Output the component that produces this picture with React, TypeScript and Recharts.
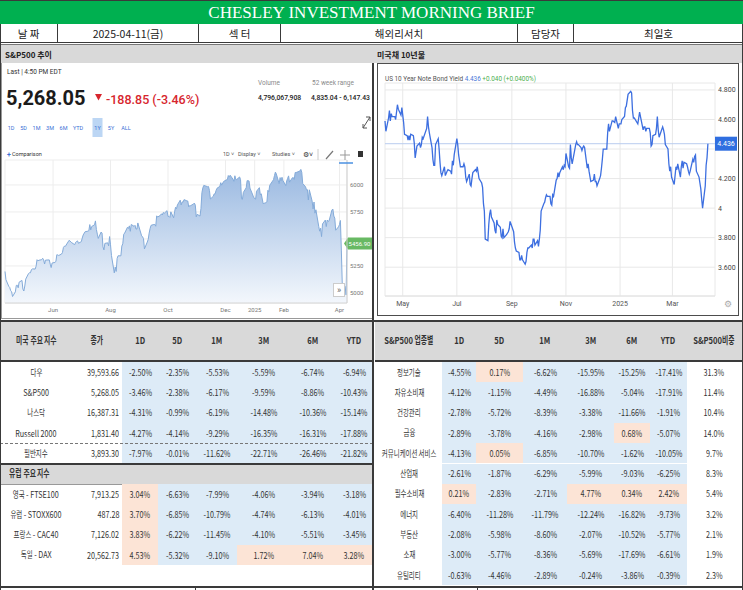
import React from "react";
import { AreaChart, Area, LineChart, Line, XAxis, YAxis, CartesianGrid, ReferenceLine } from "recharts";

// trading days shared by both series, 2024-04-11 .. 2025-04-10
const calendar: [string, number[]][] = [
  ["2024-04", [11, 12, 15, 16, 17, 18, 19, 22, 23, 24, 25, 26, 29, 30]],
  ["2024-05", [1, 2, 3, 6, 7, 8, 9, 10, 13, 14, 15, 16, 17, 20, 21, 22, 23, 24, 28, 29, 30, 31]],
  ["2024-06", [3, 4, 5, 6, 7, 10, 11, 12, 13, 14, 17, 18, 20, 21, 24, 25, 26, 27, 28]],
  ["2024-07", [1, 2, 3, 5, 8, 9, 10, 11, 12, 15, 16, 17, 18, 19, 22, 23, 24, 25, 26, 29, 30, 31]],
  ["2024-08", [1, 2, 5, 6, 7, 8, 9, 12, 13, 14, 15, 16, 19, 20, 21, 22, 23, 26, 27, 28, 29, 30]],
  ["2024-09", [3, 4, 5, 6, 9, 10, 11, 12, 13, 16, 17, 18, 19, 20, 23, 24, 25, 26, 27, 30]],
  ["2024-10", [1, 2, 3, 4, 7, 8, 9, 10, 11, 14, 15, 16, 17, 18, 21, 22, 23, 24, 25, 28, 29, 30, 31]],
  ["2024-11", [1, 4, 5, 6, 7, 8, 12, 13, 14, 15, 18, 19, 20, 21, 22, 25, 26, 27, 29]],
  ["2024-12", [2, 3, 4, 5, 6, 9, 10, 11, 12, 13, 16, 17, 18, 19, 20, 23, 24, 26, 27, 30, 31]],
  ["2025-01", [2, 3, 6, 7, 8, 10, 13, 14, 15, 16, 17, 21, 22, 23, 24, 27, 28, 29, 30, 31]],
  ["2025-02", [3, 4, 5, 6, 7, 10, 11, 12, 13, 14, 18, 19, 20, 21, 24, 25, 26, 27, 28]],
  ["2025-03", [3, 4, 5, 6, 7, 10, 11, 12, 13, 14, 17, 18, 19, 20, 21, 24, 25, 26, 27, 28, 31]],
  ["2025-04", [1, 2, 3, 4, 7, 8, 9, 10]],
];

// S&P 500 closes (through 04-09)
const spxClose = [
  5199, 5123, 5061, 5051, 5022, 5011, 4967, 5010, 5070, 5072, 5048, 5100, 5116, 5036,
  5018, 5064, 5128, 5180, 5187, 5187, 5214, 5223, 5221, 5247, 5308, 5297, 5303, 5308, 5321, 5307, 5268, 5304, 5306, 5267, 5235, 5277,
  5283, 5291, 5354, 5352, 5347, 5360, 5375, 5421, 5433, 5431, 5473, 5487, 5473, 5464, 5447, 5469, 5477, 5482, 5460,
  5475, 5509, 5537, 5567, 5572, 5577, 5633, 5584, 5615, 5631, 5667, 5588, 5544, 5505, 5564, 5555, 5427, 5399, 5459, 5464, 5436, 5522,
  5446, 5347, 5186, 5240, 5199, 5319, 5344, 5344, 5434, 5455, 5543, 5554, 5608, 5597, 5621, 5571, 5634, 5617, 5626, 5592, 5592, 5648,
  5529, 5520, 5503, 5408, 5471, 5496, 5554, 5596, 5626, 5634, 5634, 5618, 5714, 5703, 5719, 5733, 5722, 5745, 5738, 5762,
  5709, 5709, 5700, 5751, 5696, 5751, 5793, 5780, 5815, 5859, 5815, 5843, 5841, 5864, 5853, 5851, 5797, 5809, 5808, 5823, 5832, 5813, 5705,
  5728, 5712, 5782, 5929, 5973, 5996, 5984, 5985, 5949, 5870, 5894, 5917, 5917, 5949, 5969, 5987, 6021, 5998, 6032,
  6047, 6050, 6087, 6075, 6090, 6053, 6034, 6085, 6051, 6051, 6074, 6050, 5872, 5867, 5931, 5974, 6040, 6037, 5971, 5907, 5882,
  5869, 5942, 5975, 5909, 5918, 5827, 5836, 5843, 5950, 5937, 5997, 6049, 6086, 6119, 6101, 6012, 6068, 6039, 6071, 6041,
  5994, 6037, 6061, 6084, 6026, 6066, 6068, 6052, 6115, 6115, 6129, 6144, 6117, 6013, 5983, 5955, 5956, 5861, 5955,
  5850, 5778, 5842, 5739, 5770, 5615, 5572, 5599, 5522, 5639, 5675, 5615, 5675, 5663, 5668, 5768, 5777, 5712, 5693, 5581, 5612,
  5633, 5671, 5397, 5074, 5062, 4982, 5456.9,
];

// US 10Y note yield, %
const ust10y = [
  4.59, 4.52, 4.61, 4.66, 4.59, 4.64, 4.62, 4.62, 4.6, 4.65, 4.7, 4.67, 4.63, 4.68,
  4.63, 4.58, 4.5, 4.49, 4.46, 4.49, 4.46, 4.5, 4.49, 4.44, 4.34, 4.38, 4.42, 4.44, 4.41, 4.43, 4.48, 4.47, 4.54, 4.62, 4.55, 4.51,
  4.41, 4.33, 4.29, 4.29, 4.43, 4.47, 4.4, 4.31, 4.24, 4.22, 4.28, 4.22, 4.25, 4.26, 4.25, 4.23, 4.32, 4.29, 4.36,
  4.47, 4.43, 4.36, 4.28, 4.28, 4.3, 4.28, 4.21, 4.18, 4.23, 4.16, 4.15, 4.2, 4.24, 4.26, 4.25, 4.28, 4.24, 4.2, 4.17, 4.14, 4.03,
  3.98, 3.79, 3.78, 3.89, 3.96, 3.99, 3.94, 3.9, 3.85, 3.83, 3.92, 3.89, 3.87, 3.81, 3.8, 3.86, 3.8, 3.82, 3.83, 3.84, 3.86, 3.91,
  3.84, 3.77, 3.73, 3.71, 3.7, 3.65, 3.65, 3.68, 3.65, 3.62, 3.64, 3.7, 3.73, 3.73, 3.75, 3.73, 3.79, 3.79, 3.75, 3.78,
  3.74, 3.79, 3.85, 3.98, 4.03, 4.04, 4.07, 4.09, 4.08, 4.08, 4.03, 4.02, 4.09, 4.08, 4.19, 4.2, 4.24, 4.21, 4.24, 4.28, 4.26, 4.29, 4.28,
  4.37, 4.28, 4.27, 4.43, 4.34, 4.3, 4.43, 4.45, 4.43, 4.43, 4.41, 4.39, 4.41, 4.42, 4.41, 4.27, 4.3, 4.25, 4.18,
  4.19, 4.23, 4.18, 4.18, 4.15, 4.2, 4.22, 4.27, 4.33, 4.4, 4.4, 4.4, 4.51, 4.57, 4.52, 4.59, 4.59, 4.58, 4.62, 4.54, 4.57,
  4.57, 4.6, 4.62, 4.68, 4.69, 4.77, 4.79, 4.78, 4.66, 4.61, 4.61, 4.57, 4.61, 4.65, 4.62, 4.53, 4.55, 4.55, 4.52, 4.54,
  4.54, 4.51, 4.42, 4.43, 4.49, 4.5, 4.54, 4.62, 4.53, 4.48, 4.55, 4.53, 4.5, 4.43, 4.4, 4.3, 4.25, 4.28, 4.21,
  4.16, 4.22, 4.28, 4.26, 4.3, 4.21, 4.28, 4.32, 4.27, 4.31, 4.3, 4.28, 4.25, 4.23, 4.25, 4.33, 4.31, 4.35, 4.36, 4.25, 4.21,
  4.17, 4.13, 4.06, 4.0, 4.15, 4.29, 4.34, 4.436,
];

const spxTickDates = ["2024-06-01", "2024-08-01", "2024-10-01", "2024-12-01", "2025-01-01", "2025-02-01", "2025-04-01"];
const spxYTicks = [5000, 5250, 5500, 5750, 6000];
const ustTickDates = ["2024-05-01", "2024-07-01", "2024-09-01", "2024-11-01", "2025-01-01", "2025-03-01"];
const ustYTicks = [3.6, 3.8, 4, 4.2, 4.4, 4.6, 4.8];

// header strip
const infoLabels = ["날 짜", "2025-04-11(금)", "섹 터", "해외리서치", "담당자", "최일호"];

// US / Europe index table
const periods = ["1D", "5D", "1M", "3M", "6M", "YTD"];
const usNames = ["다우", "S&P500", "나스닥", "Russell 2000", "필반지수"];
const usClose = ["39,593.66", "5,268.05", "16,387.31", "1,831.40", "3,893.30"];
const us1D = [-2.5, -3.46, -4.31, -4.27, -7.97];
const us5D = [-2.35, -2.38, -0.99, -4.14, -0.01];
const us1M = [-5.53, -6.17, -6.19, -9.29, -11.62];
const us3M = [-5.59, -9.59, -14.48, -16.35, -22.71];
const us6M = [-6.74, -8.86, -10.36, -16.31, -26.46];
const usYTD = [-6.94, -10.43, -15.14, -17.88, -21.82];

const euNames = ["영국 - FTSE100", "유럽 - STOXX600", "프랑스 - CAC40", "독일 - DAX"];
const euClose = ["7,913.25", "487.28", "7,126.02", "20,562.73"];
const eu1D = [3.04, 3.7, 3.83, 4.53];
const eu5D = [-6.63, -6.85, -6.22, -5.32];
const eu1M = [-7.99, -10.79, -11.45, -9.1];
const eu3M = [-4.06, -4.74, -4.1, 1.72];
const eu6M = [-3.94, -6.13, -5.51, 7.04];
const euYTD = [-3.18, -4.01, -3.45, 3.28];

// S&P 500 sector table
const secNames = ["정보기술", "자유소비재", "건강관리", "금융", "커뮤니케이션 서비스", "산업재", "필수소비재", "에너지", "부동산", "소재", "유틸리티"];
const sec1D = [-4.55, -4.12, -2.78, -2.89, -4.13, -2.61, 0.21, -6.4, -2.08, -3.0, -0.63];
const sec5D = [0.17, -1.15, -5.72, -3.78, 0.05, -1.87, -2.83, -11.28, -5.98, -5.77, -4.46];
const sec1M = [-6.62, -4.49, -8.39, -4.16, -6.85, -6.29, -2.71, -11.79, -8.6, -8.36, -2.89];
const sec3M = [-15.95, -16.88, -3.38, -2.98, -10.7, -5.99, 4.77, -12.24, -2.07, -5.69, -0.24];
const sec6M = [-15.25, -5.04, -11.66, 0.68, -1.62, -9.03, 0.34, -16.82, -10.52, -17.69, -3.86];
const secYTD = [-17.41, -17.91, -1.91, -5.07, -10.05, -6.25, 2.42, -9.73, -5.77, -6.61, -0.39];
const secWeight = [31.3, 11.4, 10.4, 14.0, 9.7, 8.3, 5.4, 3.2, 2.1, 1.9, 2.3];

const UI = "Roboto, 'Liberation Sans', Arial, sans-serif";
const KR = "'Noto Sans CJK KR', 'Noto Sans', sans-serif";
const BLUE = "#ddebf7";
const SALMON = "#fce4d6";
const GRAY = "#d9d9d9";
const DARK = "#3a3a3a";

const days = calendar.flatMap(([ym, ds]) => ds.map((d) => Date.parse(`${ym}-${String(d).padStart(2, "0")}`)));
const spxData = spxClose.map((close, i) => ({ t: days[i], close }));
const ustData = ust10y.map((y, i) => ({ t: days[i], y }));
const spxLast = spxClose[spxClose.length - 1];
const ustLast = ust10y[ust10y.length - 1];

const MONTHS = ["Jan", "Feb", "Mar", "Apr", "May", "Jun", "Jul", "Aug", "Sep", "Oct", "Nov", "Dec"];
const monthTick = (t: number) => {
  const d = new Date(t);
  return d.getUTCMonth() === 0 ? String(d.getUTCFullYear()) : MONTHS[d.getUTCMonth()];
};
const yieldTick = (v: number) => (Math.abs(v - 4.4) < 1e-6 ? "" : v === 4 ? "4" : v.toFixed(3));
const pct = (v: number) => `${v.toFixed(2)}%`;
const tone = (v: number) => (v > 0 ? SALMON : BLUE);

// table text: condensed; hangul runs squeezed a bit harder than latin/digits.
// hangul glyphs are one em wide, so the squeezed run's width is known and
// a negative margin closes the gap left by the transform.
const HANGUL = /([\uac00-\ud7a3]+)/;
function Txt({ s, size = 9, bold = false, sx = 0.8, origin = "center" }: { s: string; size?: number; bold?: boolean; sx?: number; origin?: string }) {
  const k = 0.88;
  const hs = size * 1.02;
  return (
    <span style={{ display: "inline-block", whiteSpace: "nowrap", transform: `scaleX(${sx})`, transformOrigin: origin, fontSize: size, fontWeight: bold ? 700 : 400, lineHeight: 1 }}>
      {s.split(HANGUL).map((p, i) =>
        /[\uac00-\ud7a3]/.test(p) ? (
          <span key={i} style={{ display: "inline-block", fontSize: hs, lineHeight: 1, verticalAlign: "baseline", transform: `scaleX(${k})`, transformOrigin: "left center", marginRight: -p.length * hs * (1 - k) }}>{p}</span>
        ) : (
          p
        )
      )}
    </span>
  );
}

function Cell({ x0, x1, y, h, bg, align = "center", children }: any) {
  return (
    <div
      style={{
        position: "absolute", left: x0, top: y, width: x1 - x0, height: h, background: bg,
        display: "flex", alignItems: "center", boxSizing: "border-box", color: "#333",
        justifyContent: align === "right" ? "flex-end" : align === "left" ? "flex-start" : "center",
        paddingRight: align === "right" ? 3 : 0, paddingLeft: align === "left" ? 9 : 0,
      }}
    >
      {children}
    </div>
  );
}

function HLine({ x, y, w, h = 1, color = DARK, dashed = false }: any) {
  return <div style={{ position: "absolute", left: x, top: y, width: w, height: dashed ? 0 : h, background: dashed ? "none" : color, borderTop: dashed ? `1px dashed ${color}` : undefined }} />;
}
function VLine({ x, y, h, w = 1, color = DARK }: any) {
  return <div style={{ position: "absolute", left: x, top: y, width: w, height: h, background: color }} />;
}

const priceTag = (props: any) => {
  const { x, y, width } = props.viewBox;
  const r = x + width;
  return (
    <g>
      <path d={`M${r - 3},${y} L${r + 1},${y - 6} H${r + 25} V${y + 6} H${r + 1} Z`} fill="#68b963" />
      <text x={r + 12.5} y={y + 2.2} fontSize={6} fill="#fff" textAnchor="middle" fontFamily={UI}>{spxLast.toFixed(2)}</text>
    </g>
  );
};

const yieldTag = (props: any) => {
  const { x, y, width } = props.viewBox;
  const r = x + width;
  return (
    <g>
      <rect x={r} y={y - 7} width={22} height={14} fill="#2f6ee0" />
      <text x={r + 11} y={y + 2.5} fontSize={7} fill="#fff" textAnchor="middle" fontFamily={UI}>{ustLast.toFixed(3)}</text>
    </g>
  );
};

function SpxChart() {
  return (
    <div style={{ position: "absolute", left: 0, top: 155 }}>
      <AreaChart width={373} height={163} data={spxData} margin={{ top: 5, right: 0, bottom: 0, left: 5 }}>
        <defs>
          <linearGradient id="spxFill" x1="0" y1="0" x2="0" y2="1">
            <stop offset="0%" stopColor="#9ab9e1" />
            <stop offset="100%" stopColor="#f3f7fc" />
          </linearGradient>
        </defs>
        <CartesianGrid stroke="#ededed" />
        <XAxis
          dataKey="t" type="number" domain={[days[0], days[spxClose.length - 1]]} ticks={spxTickDates.map((d) => Date.parse(d))}
          tickFormatter={monthTick} interval={0} height={15} tickSize={3} tickLine={false}
          axisLine={{ stroke: "#d4d4d4" }} tick={{ fontSize: 6, fill: "#777", fontFamily: UI }}
        />
        <YAxis
          orientation="right" type="number" domain={[4907, 6231]} allowDataOverflow ticks={spxYTicks} interval={0}
          width={26} tickSize={1} tickLine={false} axisLine={{ stroke: "#cfcfcf" }}
          tickFormatter={(v: number) => (v === 5500 ? "" : String(v))} tick={{ fontSize: 6, fill: "#777", fontFamily: UI }}
        />
        <Area type="linear" dataKey="close" stroke="#84abd9" strokeWidth={1} fill="url(#spxFill)" fillOpacity={1} dot={false} activeDot={false} isAnimationActive={false} />
        <ReferenceLine y={spxLast} stroke="none" label={priceTag} />
      </AreaChart>
    </div>
  );
}

function UstChart() {
  return (
    <div style={{ position: "absolute", left: 378, top: 64 }}>
      <LineChart width={360} height={250} data={ustData} margin={{ top: 19, right: 0, bottom: 0, left: 7 }}>
        <CartesianGrid stroke="#e8e8e8" />
        <XAxis
          dataKey="t" type="number" domain={[days[0], Date.parse("2025-04-18")]} ticks={ustTickDates.map((d) => Date.parse(d))}
          tickFormatter={monthTick} interval={0} height={18} tickSize={3} tickLine={false}
          axisLine={{ stroke: "#e2e2e2" }} tick={{ fontSize: 7, fill: "#555", fontFamily: UI }}
        />
        <YAxis
          orientation="right" type="number" domain={[3.405, 4.847]} allowDataOverflow ticks={ustYTicks} interval={0}
          width={23} tickSize={1} tickLine={false} axisLine={false}
          tickFormatter={yieldTick} tick={{ fontSize: 7, fill: "#444", fontFamily: UI }}
        />
        <ReferenceLine y={ustLast} stroke="#b9ccef" strokeWidth={1} label={yieldTag} />
        <Line type="linear" dataKey="y" stroke="#3d6fe0" strokeWidth={1.3} dot={false} activeDot={false} isAnimationActive={false} />
      </LineChart>
    </div>
  );
}

function SpxHeader() {
  const blue = "#3a6fd6";
  const ranges = ["1D", "5D", "1M", "3M", "6M", "YTD", "1Y", "5Y", "ALL"];
  const rangeX = [11, 23.5, 36.5, 50, 63.5, 78, 97.5, 111, 126];
  return (
    <svg width={373} height={170} style={{ position: "absolute", left: 0, top: 0 }} fontFamily={UI}>
      <text x={7} y={74} fontSize={6.5} fill="#333">Last | 4:50 PM EDT</text>
      <text x={6} y={105} fontSize={20} fontWeight={700} fill="#1b1b1b">5,268.05</text>
      <polygon points="95,94 102,94 98.5,100.5" fill="#d7262e" />
      <text x={106} y={104} fontSize={12.5} fontWeight={500} fill="#d7262e">-188.85 (-3.46%)</text>
      <text x={258} y={85} fontSize={6.5} fill="#8a8a8a">Volume</text>
      <text x={312} y={85} fontSize={6.5} fill="#8a8a8a">52 week range</text>
      <text x={258} y={99.5} fontSize={6.8} fontWeight={500} fill="#222">4,796,067,908</text>
      <text x={311} y={99.5} fontSize={6.8} fontWeight={500} fill="#222">4,835.04 - 6,147.43</text>
      <rect x={92.5} y={118} width={10} height={19} fill="#bcd6f4" />
      {ranges.map((r, i) => (
        <text key={r} x={rangeX[i]} y={129.5} fontSize={5.5} textAnchor="middle" fill={blue}>{r}</text>
      ))}
      <g stroke="#555" strokeWidth={1}>
        <line x1={363} y1={128} x2={370} y2={117} />
        <polyline points="366,117 370,117 370,121" fill="none" />
        <polyline points="363,124 363,128 367,128" fill="none" />
      </g>
      <text x={7} y={156.5} fontSize={7} fontWeight={700} fill={blue}>+</text>
      <text x={12} y={156} fontSize={5.5} fill="#333">Comparison</text>
      <g fontSize={5.5} fill="#555">
        <text x={223} y={156}>1D ˅</text>
        <text x={238} y={156}>Display ˅</text>
        <text x={272} y={156}>Studies ˅</text>
        <text x={303} y={156.5} fontSize={7} fill="#333">⚙˅</text>
      </g>
      <line x1={318} y1={149} x2={318} y2={160} stroke="#ccc" />
      <line x1={326} y1={159} x2={333} y2={151} stroke="#777" strokeWidth={1.2} />
      <line x1={345} y1={150} x2={345} y2={160} stroke="#999" />
      <line x1={340} y1={155} x2={350} y2={155} stroke="#999" />
      <line x1={339} y1={163} x2={353} y2={163} stroke="#4a90e2" strokeWidth={1.5} />
      <rect x={358} y={151} width={5} height={6} fill="#333" />
    </svg>
  );
}

function IndexTable() {
  const E = [0, 72, 122, 158, 197, 237, 290, 335, 373];
  const rowH = 20.3;
  const usCols = [us1D, us5D, us1M, us3M, us6M, usYTD];
  const euCols = [eu1D, eu5D, eu1M, eu3M, eu6M, euYTD];
  const heads = ["미국 주요 지수", "종가", ...periods];
  const euTop = 484;
  const row = (name: string, close: string, cols: number[][], i: number, y: number) => (
    <React.Fragment key={name}>
      <Cell x0={E[0]} x1={E[1]} y={y} h={rowH}><Txt s={name} /></Cell>
      <Cell x0={E[1]} x1={E[2]} y={y} h={rowH} align="right"><Txt s={close} origin="right center" /></Cell>
      {cols.map((c, j) => (
        <Cell key={j} x0={E[j + 2]} x1={E[j + 3]} y={y} h={rowH} bg={tone(c[i])}><Txt s={pct(c[i])} /></Cell>
      ))}
    </React.Fragment>
  );
  return (
    <>
      <div style={{ position: "absolute", left: 0, top: 322, width: 373, height: 38, background: GRAY }} />
      {heads.map((h, j) => (
        <Cell key={h} x0={E[j]} x1={E[j + 1]} y={322} h={38}><Txt s={h} size={9.5} bold /></Cell>
      ))}
      <HLine x={0} y={360} w={373} h={2} />
      {usNames.map((n, i) => row(n, usClose[i], usCols, i, 362 + i * rowH))}
      <HLine x={0} y={362 + 4 * rowH} w={373} color="#777" dashed />
      <div style={{ position: "absolute", left: 0, top: 463.5, width: 373, height: euTop - 463.5, background: GRAY }} />
      <HLine x={0} y={463} w={373} h={2} />
      <Cell x0={0} x1={200} y={464} h={20} align="left"><Txt s="유럽 주요 지수" size={9.5} bold origin="left center" /></Cell>
      <HLine x={0} y={euTop - 0.5} w={373} color="#999" />
      {euNames.map((n, i) => row(n, euClose[i], euCols, i, euTop + i * rowH))}
    </>
  );
}

function SectorTable() {
  const E = [376, 442, 476, 523, 567, 614, 650, 687, 741];
  const rowH = 20.3;
  const cols = [sec1D, sec5D, sec1M, sec3M, sec6M, secYTD];
  const heads = ["S&P500 업종별", ...periods, "S&P500비중"];
  return (
    <>
      <div style={{ position: "absolute", left: 375, top: 322, width: 367, height: 38, background: GRAY }} />
      {heads.map((h, j) => (
        <Cell key={h} x0={E[j]} x1={E[j + 1]} y={322} h={38}><Txt s={h} size={9.5} bold /></Cell>
      ))}
      <HLine x={375} y={360} w={368} h={2} />
      {secNames.map((n, i) => {
        const y = 362 + i * rowH;
        return (
          <React.Fragment key={n}>
            <Cell x0={E[0]} x1={E[1]} y={y} h={rowH}><Txt s={n} /></Cell>
            {cols.map((c, j) => (
              <Cell key={j} x0={E[j + 1]} x1={E[j + 2]} y={y} h={rowH} bg={tone(c[i])}><Txt s={pct(c[i])} /></Cell>
            ))}
            <Cell x0={E[7]} x1={E[8]} y={y} h={rowH}><Txt s={`${secWeight[i].toFixed(1)}%`} /></Cell>
          </React.Fragment>
        );
      })}
    </>
  );
}

export default function App() {
  const infoEdges = [0, 58, 199, 281, 518, 574, 743];
  return (
    <div style={{ position: "relative", width: 743, height: 590, background: "#fff", overflow: "hidden", fontFamily: KR, color: "#222" }}>
      <style>{`body{margin:0}`}</style>

      {/* title bar */}
      <div style={{ position: "absolute", left: 0, top: 0, width: 743, height: 24, background: "#00b050", borderTop: `1px solid ${DARK}`, boxSizing: "border-box", display: "flex", alignItems: "center", justifyContent: "center" }}>
        <span style={{ fontFamily: "'Liberation Serif', 'DejaVu Serif', serif", fontSize: 17, color: "#fff", lineHeight: 1 }}>CHESLEY INVESTMENT MORNING BRIEF</span>
      </div>

      {/* date / sector / author strip */}
      {infoLabels.map((s, i) => (
        <div key={s} style={{ position: "absolute", left: infoEdges[i], top: 24, width: infoEdges[i + 1] - infoEdges[i], height: 18, display: "flex", alignItems: "center", justifyContent: "center", fontSize: 10.5, color: "#222", borderRight: i < 5 ? `1px solid ${DARK}` : "none", boxSizing: "border-box" }}>
          {s}
        </div>
      ))}
      <div style={{ position: "absolute", left: 0, top: 42, width: 743, height: 3, borderTop: `1px solid ${DARK}`, borderBottom: "1px solid #777", boxSizing: "border-box" }} />

      {/* section captions */}
      <div style={{ position: "absolute", left: 0, top: 45, width: 743, height: 18, background: GRAY }} />
      <div style={{ position: "absolute", left: 5, top: 45, height: 18, display: "flex", alignItems: "center", fontSize: 8, fontWeight: 700 }}>S&amp;P500 추이</div>
      <div style={{ position: "absolute", left: 377, top: 45, height: 18, display: "flex", alignItems: "center", fontSize: 8, fontWeight: 700 }}>미국채 10년물</div>

      {/* S&P 500 panel */}
      <div style={{ position: "absolute", left: 1, top: 63, width: 372, height: 256, borderLeft: "1px solid #999", borderBottom: "1px solid #999", boxSizing: "border-box" }} />
      <SpxChart />
      <SpxHeader />
      <div style={{ position: "absolute", left: 333, top: 283, width: 12, height: 14, border: "1px solid #ccc", background: "#fff", boxSizing: "border-box", display: "flex", alignItems: "center", justifyContent: "center", fontSize: 9, color: "#666", fontFamily: UI, lineHeight: 1 }}>»</div>

      {/* US 10Y panel */}
      <div style={{ position: "absolute", left: 377, top: 63, width: 362, height: 253, border: "1.5px solid #4d4d4d", boxSizing: "border-box" }} />
      <UstChart />
      <svg width={743} height={320} style={{ position: "absolute", left: 0, top: 0 }} fontFamily={UI}>
        <text x={385} y={80.5} fontSize={6.4}>
          <tspan fill="#555">US 10 Year Note Bond Yield </tspan>
          <tspan fill="#4a78d8">{ustLast.toFixed(3)}</tspan>
          <tspan fill="#4caf50">  +0.040 (+0.0400%)</tspan>
        </text>
        <text x={724} y={307} fontSize={9} fill="#aaa">⚙</text>
      </svg>

      {/* tables */}
      <HLine x={0} y={320} w={743} h={2} />
      <IndexTable />
      <SectorTable />
      <HLine x={0} y={585.5} w={743} h={2} />
      <VLine x={195} y={587} h={3} />
      <VLine x={477} y={587} h={3} />

      {/* frame */}
      <VLine x={372} y={63} h={527} w={2} />
      <VLine x={0} y={24} h={566} />
      <VLine x={742} y={24} h={566} />
    </div>
  );
}
